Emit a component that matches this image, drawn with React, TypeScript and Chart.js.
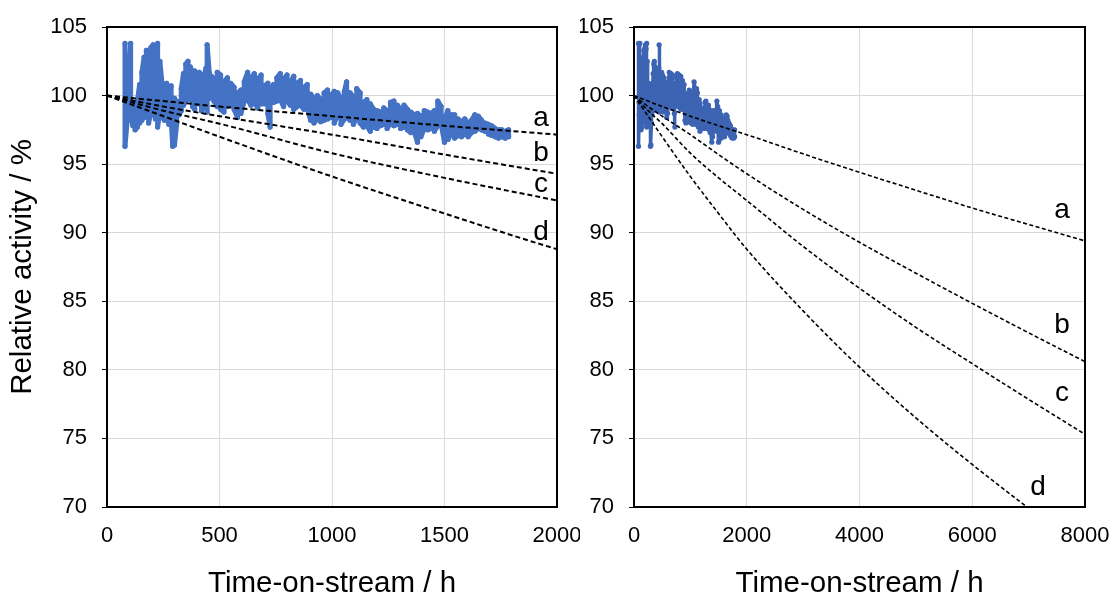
import React, { useEffect, useRef } from 'react';
import { Chart, registerables } from 'chart.js';

Chart.register(...registerables);

// Time-on-stream readings (h) with upper / lower relative activity (%) of the measured band
const TOS_H = [80, 92, 105, 115, 125, 135, 145, 155, 165, 175, 185, 195, 205, 215, 225, 235, 245, 255, 265, 275, 285, 292, 300, 310, 320, 330, 340, 350, 360, 370, 380, 390, 400, 410, 420, 430, 440, 445, 455, 465, 475, 490, 505, 520, 535, 550, 565, 580, 595, 610, 625, 640, 655, 670, 685, 700, 715, 725, 740, 755, 770, 785, 800, 815, 830, 845, 860, 875, 890, 905, 920, 935, 950, 965, 980, 995, 1010, 1025, 1040, 1055, 1065, 1080, 1095, 1110, 1125, 1140, 1155, 1170, 1185, 1200, 1215, 1230, 1245, 1260, 1275, 1290, 1305, 1320, 1335, 1350, 1365, 1380, 1395, 1410, 1425, 1440, 1455, 1470, 1485, 1500, 1515, 1530, 1545, 1560, 1575, 1590, 1605, 1620, 1635, 1650, 1665, 1680, 1695, 1710, 1725, 1740, 1755, 1770, 1785];
const ACT_HI = [103.8, 99.5, 103.8, 99.4, 99.0, 99.6, 100.8, 101.7, 102.8, 103.3, 103.0, 103.5, 103.7, 103.4, 103.8, 102.5, 100.8, 100.2, 100.9, 100.6, 100.7, 99.5, 99.8, 99.6, 99.4, 100.5, 101.6, 102.3, 102.5, 102.1, 101.6, 101.8, 101.2, 101.7, 101.5, 101.3, 102.0, 103.7, 101.6, 101.4, 101.2, 101.7, 101.5, 101.0, 101.3, 100.9, 100.6, 100.2, 100.4, 101.0, 101.7, 101.3, 101.6, 101.2, 101.5, 100.7, 100.9, 100.3, 100.8, 101.3, 101.6, 101.2, 101.5, 101.0, 101.4, 100.9, 101.1, 100.6, 100.8, 100.1, 99.8, 100.0, 99.7, 100.2, 100.4, 100.0, 100.3, 100.2, 99.8, 100.3, 101.0, 100.2, 99.9, 100.5, 100.2, 99.5, 99.7, 99.4, 99.0, 98.9, 98.8, 99.1, 98.9, 99.5, 99.6, 99.3, 99.0, 99.3, 99.0, 98.8, 98.6, 98.7, 98.5, 98.9, 98.8, 98.7, 98.9, 99.6, 99.2, 98.3, 98.9, 98.6, 98.6, 98.3, 98.1, 98.3, 98.0, 98.2, 98.6, 98.5, 98.2, 98.0, 97.9, 97.8, 97.6, 97.5, 97.5, 97.4, 97.5];
const ACT_LO = [96.3, 98.6, 98.6, 97.8, 97.5, 97.7, 98.0, 98.2, 98.4, 98.6, 98.0, 98.8, 99.2, 98.3, 97.7, 98.9, 98.5, 98.2, 98.6, 97.9, 98.3, 96.3, 96.4, 98.0, 98.6, 98.9, 99.3, 99.6, 100.0, 99.7, 99.2, 99.0, 99.8, 99.4, 98.9, 99.3, 99.6, 98.8, 99.8, 100.1, 99.6, 99.2, 99.0, 98.8, 99.2, 99.4, 99.0, 98.4, 98.7, 99.6, 99.7, 99.3, 99.5, 99.1, 99.4, 99.4, 98.7, 97.7, 99.5, 99.6, 99.7, 99.2, 99.6, 99.3, 99.0, 99.2, 99.3, 99.0, 99.1, 98.2, 98.0, 98.3, 98.1, 98.2, 98.3, 98.4, 98.0, 98.6, 97.9, 98.3, 98.5, 98.2, 97.9, 98.4, 98.0, 97.7, 97.8, 97.4, 97.7, 97.6, 97.8, 97.9, 97.6, 98.0, 97.8, 97.9, 97.6, 97.7, 97.5, 97.3, 97.4, 96.6, 97.0, 97.6, 97.5, 97.6, 97.4, 97.8, 97.9, 96.6, 96.8, 97.2, 96.9, 97.1, 97.0, 97.2, 97.0, 97.3, 97.4, 97.6, 97.5, 97.4, 97.2, 97.1, 97.0, 96.9, 97.0, 96.9, 97.0];

// Predicted deactivation curves a–d
const CURVE_T = [0, 250, 500, 1000, 1500, 2000, 3000, 4000, 5000, 6000, 7000, 8000];
const CURVE_A = [100, 99.6, 99.2, 98.5, 97.8, 97.15, 95.75, 94.4, 93.1, 91.8, 90.6, 89.4];
const CURVE_B = [100, 99.2, 98.5, 97.15, 95.7, 94.3, 91.7, 89.3, 87.05, 84.85, 82.7, 80.6];
const CURVE_C = [100, 98.9, 97.95, 95.8, 94.0, 92.35, 89.0, 85.95, 83.1, 80.45, 77.85, 75.3];
const CURVE_D = [100, 98.5, 97.0, 94.1, 91.4, 88.8, 84.3, 80.2, 76.5, 73.1, 69.9];
const CURVE_NAMES = ['a', 'b', 'c', 'd'];

const Y_TICKS = [70, 75, 80, 85, 90, 95, 100, 105];
const X_TICKS_LEFT = [0, 500, 1000, 1500, 2000];
const X_TICKS_RIGHT = [0, 2000, 4000, 6000, 8000];

const FONT = "'Liberation Sans', Arial, Helvetica, sans-serif";

const framePlugin = {
  id: 'frame',
  afterDatasetsDraw(chart: any, _args: any, opts: any) {
    const { ctx, chartArea, scales } = chart;
    ctx.save();
    ctx.font = `28px ${FONT}`;
    ctx.fillStyle = '#000';
    ctx.textAlign = 'center';
    ctx.textBaseline = 'middle';
    (opts.labels || []).forEach((l: any) => {
      ctx.fillText(l.text, scales.x.getPixelForValue(l.x), scales.y.getPixelForValue(l.y));
    });
    ctx.strokeStyle = '#000';
    ctx.lineWidth = 2;
    ctx.strokeRect(chartArea.left, chartArea.top, chartArea.right - chartArea.left, chartArea.bottom - chartArea.top);
    ctx.restore();
  },
};

function bandPoints() {
  const pts: { x: number; y: number }[] = [];
  TOS_H.forEach((t, i) => {
    if (i % 2 === 0) {
      pts.push({ x: t, y: ACT_HI[i] });
      pts.push({ x: t, y: ACT_LO[i] });
    } else {
      pts.push({ x: t, y: ACT_LO[i] });
      pts.push({ x: t, y: ACT_HI[i] });
    }
  });
  return pts;
}

function curvePoints(vals: number[]) {
  return vals.map((v, i) => ({ x: CURVE_T[i], y: v }));
}

function makeConfig(panel: 'left' | 'right') {
  const isLeft = panel === 'left';
  const xTicks = isLeft ? X_TICKS_LEFT : X_TICKS_RIGHT;
  const curves = [CURVE_A, CURVE_B, CURVE_C, CURVE_D];
  const labels = isLeft
    ? [
        { text: 'a', x: 1929, y: 98.36 },
        { text: 'b', x: 1929, y: 95.8 },
        { text: 'c', x: 1929, y: 93.5 },
        { text: 'd', x: 1929, y: 90.05 },
      ]
    : [
        { text: 'a', x: 7592, y: 91.66 },
        { text: 'b', x: 7592, y: 83.27 },
        { text: 'c', x: 7592, y: 78.31 },
        { text: 'd', x: 7166, y: 71.46 },
      ];
  const datasets: any[] = curves.map((c, i) => ({
    label: CURVE_NAMES[i],
    data: curvePoints(c),
    showLine: true,
    borderColor: '#000',
    borderWidth: isLeft ? 2 : 1.6,
    borderDash: isLeft ? [5, 3] : [4, 2.5],
    pointRadius: 0,
    cubicInterpolationMode: 'monotone',
    fill: false,
  }));
  const blue = isLeft ? '#4472C4' : '#3D64B2';
  datasets.push({
    label: 'measured',
    data: bandPoints(),
    showLine: true,
    borderColor: blue,
    backgroundColor: blue,
    borderWidth: isLeft ? 5 : 3.5,
    borderJoinStyle: 'round',
    pointRadius: 2.6,
    pointBorderWidth: 0,
    tension: 0,
  });
  return {
    type: 'scatter',
    data: { datasets },
    plugins: [framePlugin],
    options: {
      responsive: false,
      animation: false,
      devicePixelRatio: 1,
      events: [],
      layout: { padding: { top: 27, right: isLeft ? 23 : 27, left: 0, bottom: 0 } },
      plugins: {
        legend: { display: false },
        tooltip: { enabled: false },
        frame: { labels },
      },
      scales: {
        x: {
          type: 'linear',
          min: 0,
          max: isLeft ? 2000 : 8000,
          afterBuildTicks: (s: any) => {
            s.ticks = xTicks.map((v) => ({ value: v }));
          },
          afterFit: (s: any) => {
            s.height = 92;
            s.paddingLeft = 0;
            s.paddingRight = 0;
          },
          border: { display: false },
          grid: { color: '#d9d9d9', lineWidth: 1, drawTicks: false },
          ticks: {
            color: '#000',
            font: { family: FONT, size: 22 },
            padding: 16,
            maxRotation: 0,
            autoSkip: false,
            callback: (v: any) => String(v),
          },
          title: {
            display: true,
            text: 'Time-on-stream / h',
            color: '#000',
            font: { family: FONT, size: 29.5, lineHeight: 1.0 },
            padding: { top: 1, bottom: 0 },
          },
        },
        y: {
          type: 'linear',
          min: 70,
          max: 105,
          afterBuildTicks: (s: any) => {
            s.ticks = Y_TICKS.map((v) => ({ value: v }));
          },
          afterFit: (s: any) => {
            s.width = isLeft ? 107 : 54;
            s.paddingTop = 0;
            s.paddingBottom = 0;
          },
          border: { display: false },
          grid: { color: '#d9d9d9', lineWidth: 1, drawTicks: true, tickLength: 5, tickColor: '#000' },
          ticks: {
            color: '#000',
            font: { family: FONT, size: 22 },
            padding: 15,
            autoSkip: false,
            callback: (v: any) => String(v),
          },
          title: {
            display: isLeft,
            text: 'Relative activity / %',
            color: '#000',
            font: { family: FONT, size: 29.5, lineHeight: 1.0 },
            padding: { top: 8, bottom: 0 },
          },
        },
      },
    },
  };
}

function Panel({ panel, left, width }: { panel: 'left' | 'right'; left: number; width: number }) {
  const ref = useRef<HTMLCanvasElement | null>(null);
  useEffect(() => {
    if (!ref.current) return;
    const chart = new Chart(ref.current, makeConfig(panel) as any);
    return () => chart.destroy();
  }, [panel]);
  return (
    <canvas
      ref={ref}
      width={width}
      height={599}
      style={{ position: 'absolute', left, top: 0, width, height: 599, display: 'block' }}
    />
  );
}

export default function App() {
  return (
    <div style={{ position: 'absolute', left: 0, top: 0, width: 1112, height: 599, background: '#fff', overflow: 'hidden' }}>
      <Panel panel="left" left={0} width={580} />
      <Panel panel="right" left={580} width={532} />
    </div>
  );
}
